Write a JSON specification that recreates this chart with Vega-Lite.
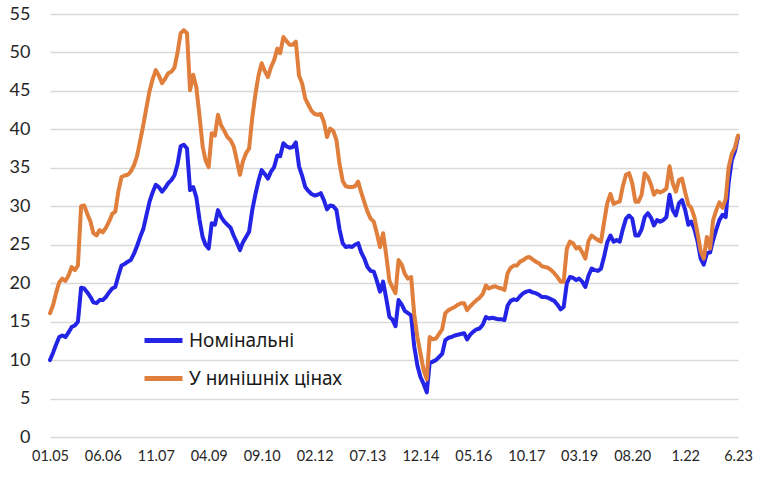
{
  "$schema": "https://vega.github.io/schema/vega-lite/v6.json",
  "width": 688,
  "height": 423,
  "autosize": {"type": "none"},
  "padding": {"left": 50, "top": 14, "right": 26, "bottom": 41},
  "background": "white",
  "config": {"view": {"stroke": null}},
  "data": {"values": [
    {"d":"2005-01-01","nom":10.0,"real":16.1},{"d":"2005-02-01","nom":11.0,"real":17.2},{"d":"2005-03-01","nom":12.0,"real":18.7},{"d":"2005-04-01","nom":13.0,"real":20.1},{"d":"2005-05-01","nom":13.2,"real":20.6},{"d":"2005-06-01","nom":13.0,"real":20.3},{"d":"2005-07-01","nom":13.6,"real":21.0},{"d":"2005-08-01","nom":14.3,"real":22.1},{"d":"2005-09-01","nom":14.5,"real":21.7},{"d":"2005-10-01","nom":15.0,"real":22.3},{"d":"2005-11-01","nom":19.4,"real":30.0},{"d":"2005-12-01","nom":19.3,"real":30.1},
    {"d":"2006-01-01","nom":18.8,"real":29.0},{"d":"2006-02-01","nom":18.2,"real":28.0},{"d":"2006-03-01","nom":17.5,"real":26.5},{"d":"2006-04-01","nom":17.4,"real":26.2},{"d":"2006-05-01","nom":17.8,"real":26.9},{"d":"2006-06-01","nom":17.8,"real":26.6},{"d":"2006-07-01","nom":18.2,"real":27.2},{"d":"2006-08-01","nom":18.8,"real":28.0},{"d":"2006-09-01","nom":19.3,"real":29.0},{"d":"2006-10-01","nom":19.5,"real":29.3},{"d":"2006-11-01","nom":21.0,"real":32.0},{"d":"2006-12-01","nom":22.3,"real":33.8},
    {"d":"2007-01-01","nom":22.5,"real":34.0},{"d":"2007-02-01","nom":22.8,"real":34.1},{"d":"2007-03-01","nom":23.0,"real":34.5},{"d":"2007-04-01","nom":23.8,"real":35.3},{"d":"2007-05-01","nom":24.8,"real":36.5},{"d":"2007-06-01","nom":26.0,"real":38.5},{"d":"2007-07-01","nom":27.0,"real":40.5},{"d":"2007-08-01","nom":28.8,"real":42.8},{"d":"2007-09-01","nom":30.6,"real":45.0},{"d":"2007-10-01","nom":31.8,"real":46.5},{"d":"2007-11-01","nom":32.8,"real":47.7},{"d":"2007-12-01","nom":32.5,"real":47.0},
    {"d":"2008-01-01","nom":31.9,"real":46.0},{"d":"2008-02-01","nom":32.4,"real":46.6},{"d":"2008-03-01","nom":33.0,"real":47.3},{"d":"2008-04-01","nom":33.4,"real":47.5},{"d":"2008-05-01","nom":34.0,"real":48.0},{"d":"2008-06-01","nom":35.5,"real":50.0},{"d":"2008-07-01","nom":37.8,"real":52.5},{"d":"2008-08-01","nom":38.0,"real":52.9},{"d":"2008-09-01","nom":37.5,"real":52.5},{"d":"2008-10-01","nom":32.1,"real":45.1},{"d":"2008-11-01","nom":32.5,"real":47.1},{"d":"2008-12-01","nom":31.2,"real":45.5},
    {"d":"2009-01-01","nom":28.3,"real":41.8},{"d":"2009-02-01","nom":26.0,"real":37.8},{"d":"2009-03-01","nom":25.0,"real":36.0},{"d":"2009-04-01","nom":24.5,"real":35.1},{"d":"2009-05-01","nom":27.8,"real":39.5},{"d":"2009-06-01","nom":27.6,"real":39.2},{"d":"2009-07-01","nom":29.5,"real":41.9},{"d":"2009-08-01","nom":28.6,"real":40.5},{"d":"2009-09-01","nom":28.0,"real":39.8},{"d":"2009-10-01","nom":27.6,"real":39.0},{"d":"2009-11-01","nom":27.2,"real":38.6},{"d":"2009-12-01","nom":26.2,"real":37.8},
    {"d":"2010-01-01","nom":25.3,"real":36.0},{"d":"2010-02-01","nom":24.3,"real":34.1},{"d":"2010-03-01","nom":25.3,"real":35.8},{"d":"2010-04-01","nom":26.0,"real":36.9},{"d":"2010-05-01","nom":26.7,"real":37.5},{"d":"2010-06-01","nom":29.5,"real":41.5},{"d":"2010-07-01","nom":31.5,"real":44.5},{"d":"2010-08-01","nom":33.3,"real":47.0},{"d":"2010-09-01","nom":34.7,"real":48.6},{"d":"2010-10-01","nom":34.2,"real":47.6},{"d":"2010-11-01","nom":33.6,"real":46.8},{"d":"2010-12-01","nom":34.5,"real":48.1},
    {"d":"2011-01-01","nom":35.1,"real":49.0},{"d":"2011-02-01","nom":36.6,"real":50.5},{"d":"2011-03-01","nom":36.5,"real":49.9},{"d":"2011-04-01","nom":38.2,"real":52.0},{"d":"2011-05-01","nom":37.8,"real":51.5},{"d":"2011-06-01","nom":37.6,"real":51.0},{"d":"2011-07-01","nom":37.7,"real":51.0},{"d":"2011-08-01","nom":38.3,"real":51.4},{"d":"2011-09-01","nom":35.2,"real":47.0},{"d":"2011-10-01","nom":34.0,"real":46.0},{"d":"2011-11-01","nom":32.5,"real":44.0},{"d":"2011-12-01","nom":32.0,"real":43.2},
    {"d":"2012-01-01","nom":31.6,"real":42.4},{"d":"2012-02-01","nom":31.4,"real":42.0},{"d":"2012-03-01","nom":31.5,"real":41.9},{"d":"2012-04-01","nom":31.7,"real":42.0},{"d":"2012-05-01","nom":30.8,"real":41.0},{"d":"2012-06-01","nom":29.6,"real":39.0},{"d":"2012-07-01","nom":30.1,"real":40.1},{"d":"2012-08-01","nom":30.0,"real":39.8},{"d":"2012-09-01","nom":29.5,"real":38.6},{"d":"2012-10-01","nom":27.0,"real":35.5},{"d":"2012-11-01","nom":25.2,"real":33.3},{"d":"2012-12-01","nom":24.7,"real":32.6},
    {"d":"2013-01-01","nom":24.8,"real":32.5},{"d":"2013-02-01","nom":24.7,"real":32.5},{"d":"2013-03-01","nom":25.0,"real":32.6},{"d":"2013-04-01","nom":25.2,"real":33.2},{"d":"2013-05-01","nom":24.0,"real":31.8},{"d":"2013-06-01","nom":23.2,"real":30.5},{"d":"2013-07-01","nom":22.1,"real":29.3},{"d":"2013-08-01","nom":21.6,"real":28.4},{"d":"2013-09-01","nom":21.5,"real":28.0},{"d":"2013-10-01","nom":20.3,"real":26.5},{"d":"2013-11-01","nom":18.9,"real":24.7},{"d":"2013-12-01","nom":20.2,"real":26.5},
    {"d":"2014-01-01","nom":18.0,"real":23.6},{"d":"2014-02-01","nom":15.6,"real":20.3},{"d":"2014-03-01","nom":15.3,"real":19.5},{"d":"2014-04-01","nom":14.4,"real":18.7},{"d":"2014-05-01","nom":17.8,"real":23.0},{"d":"2014-06-01","nom":17.2,"real":22.4},{"d":"2014-07-01","nom":16.4,"real":21.2},{"d":"2014-08-01","nom":16.1,"real":20.6},{"d":"2014-09-01","nom":15.8,"real":20.8},{"d":"2014-10-01","nom":11.8,"real":16.0},{"d":"2014-11-01","nom":9.3,"real":13.0},{"d":"2014-12-01","nom":7.8,"real":10.9},
    {"d":"2015-01-01","nom":6.9,"real":8.7},{"d":"2015-02-01","nom":5.8,"real":7.5},{"d":"2015-03-01","nom":9.6,"real":13.0},{"d":"2015-04-01","nom":9.8,"real":12.7},{"d":"2015-05-01","nom":10.0,"real":12.8},{"d":"2015-06-01","nom":10.4,"real":13.4},{"d":"2015-07-01","nom":10.8,"real":14.0},{"d":"2015-08-01","nom":12.6,"real":16.1},{"d":"2015-09-01","nom":12.9,"real":16.5},{"d":"2015-10-01","nom":13.0,"real":16.7},{"d":"2015-11-01","nom":13.2,"real":16.9},{"d":"2015-12-01","nom":13.3,"real":17.2},
    {"d":"2016-01-01","nom":13.4,"real":17.4},{"d":"2016-02-01","nom":13.5,"real":17.4},{"d":"2016-03-01","nom":12.7,"real":16.5},{"d":"2016-04-01","nom":13.3,"real":17.0},{"d":"2016-05-01","nom":13.7,"real":17.4},{"d":"2016-06-01","nom":14.0,"real":17.8},{"d":"2016-07-01","nom":14.1,"real":18.1},{"d":"2016-08-01","nom":14.6,"real":18.6},{"d":"2016-09-01","nom":15.6,"real":19.7},{"d":"2016-10-01","nom":15.4,"real":19.3},{"d":"2016-11-01","nom":15.5,"real":19.5},{"d":"2016-12-01","nom":15.4,"real":19.6},
    {"d":"2017-01-01","nom":15.3,"real":19.4},{"d":"2017-02-01","nom":15.3,"real":19.3},{"d":"2017-03-01","nom":15.2,"real":19.1},{"d":"2017-04-01","nom":17.1,"real":21.3},{"d":"2017-05-01","nom":17.7,"real":22.0},{"d":"2017-06-01","nom":17.9,"real":22.3},{"d":"2017-07-01","nom":17.8,"real":22.3},{"d":"2017-08-01","nom":18.3,"real":22.8},{"d":"2017-09-01","nom":18.7,"real":23.0},{"d":"2017-10-01","nom":18.9,"real":23.3},{"d":"2017-11-01","nom":19.0,"real":23.4},{"d":"2017-12-01","nom":18.8,"real":23.1},
    {"d":"2018-01-01","nom":18.7,"real":22.8},{"d":"2018-02-01","nom":18.5,"real":22.6},{"d":"2018-03-01","nom":18.2,"real":22.2},{"d":"2018-04-01","nom":18.2,"real":22.1},{"d":"2018-05-01","nom":18.1,"real":22.0},{"d":"2018-06-01","nom":17.9,"real":21.7},{"d":"2018-07-01","nom":17.7,"real":21.3},{"d":"2018-08-01","nom":17.2,"real":20.8},{"d":"2018-09-01","nom":16.6,"real":20.2},{"d":"2018-10-01","nom":16.9,"real":20.2},{"d":"2018-11-01","nom":20.0,"real":24.5},{"d":"2018-12-01","nom":20.8,"real":25.4},
    {"d":"2019-01-01","nom":20.7,"real":25.2},{"d":"2019-02-01","nom":20.4,"real":24.5},{"d":"2019-03-01","nom":20.6,"real":24.7},{"d":"2019-04-01","nom":20.2,"real":24.0},{"d":"2019-05-01","nom":19.5,"real":23.2},{"d":"2019-06-01","nom":21.0,"real":25.5},{"d":"2019-07-01","nom":21.9,"real":26.2},{"d":"2019-08-01","nom":21.7,"real":25.9},{"d":"2019-09-01","nom":21.6,"real":25.6},{"d":"2019-10-01","nom":21.9,"real":25.4},{"d":"2019-11-01","nom":23.5,"real":28.0},{"d":"2019-12-01","nom":25.3,"real":30.4},
    {"d":"2020-01-01","nom":26.2,"real":31.6},{"d":"2020-02-01","nom":25.4,"real":30.3},{"d":"2020-03-01","nom":25.6,"real":30.5},{"d":"2020-04-01","nom":25.4,"real":30.6},{"d":"2020-05-01","nom":27.0,"real":32.6},{"d":"2020-06-01","nom":28.4,"real":34.1},{"d":"2020-07-01","nom":28.8,"real":34.3},{"d":"2020-08-01","nom":28.4,"real":33.0},{"d":"2020-09-01","nom":26.2,"real":30.6},{"d":"2020-10-01","nom":26.2,"real":30.6},{"d":"2020-11-01","nom":27.0,"real":31.5},{"d":"2020-12-01","nom":28.6,"real":34.3},
    {"d":"2021-01-01","nom":29.1,"real":33.8},{"d":"2021-02-01","nom":28.5,"real":32.8},{"d":"2021-03-01","nom":27.5,"real":31.5},{"d":"2021-04-01","nom":28.2,"real":32.0},{"d":"2021-05-01","nom":28.0,"real":31.8},{"d":"2021-06-01","nom":28.2,"real":32.0},{"d":"2021-07-01","nom":28.6,"real":32.3},{"d":"2021-08-01","nom":31.5,"real":35.2},{"d":"2021-09-01","nom":29.5,"real":33.0},{"d":"2021-10-01","nom":28.8,"real":31.9},{"d":"2021-11-01","nom":30.4,"real":33.4},{"d":"2021-12-01","nom":30.8,"real":33.6},
    {"d":"2022-01-01","nom":29.5,"real":31.8},{"d":"2022-02-01","nom":27.6,"real":30.2},{"d":"2022-03-01","nom":28.0,"real":29.8},{"d":"2022-04-01","nom":27.0,"real":28.6},{"d":"2022-05-01","nom":25.5,"real":26.5},{"d":"2022-06-01","nom":23.2,"real":24.2},{"d":"2022-07-01","nom":22.4,"real":23.2},{"d":"2022-08-01","nom":23.9,"real":26.0},{"d":"2022-09-01","nom":24.0,"real":24.5},{"d":"2022-10-01","nom":25.6,"real":28.2},{"d":"2022-11-01","nom":27.0,"real":29.5},{"d":"2022-12-01","nom":28.2,"real":30.5},
    {"d":"2023-01-01","nom":28.9,"real":29.8},{"d":"2023-02-01","nom":28.6,"real":31.0},{"d":"2023-03-01","nom":33.0,"real":35.0},{"d":"2023-04-01","nom":36.0,"real":36.8},{"d":"2023-05-01","nom":37.1,"real":37.6},{"d":"2023-06-01","nom":39.0,"real":39.2}
  ]},
  "transform": [{"fold": ["nom", "real"], "as": ["series", "value"]}],
  "mark": {"type": "line", "strokeWidth": 4, "strokeJoin": "round", "strokeCap": "round"},
  "encoding": {
    "x": {
      "field": "d", "type": "temporal",
      "scale": {"type": "utc", "domain": [{"year": 2005, "month": 1, "date": 1, "utc": true}, {"year": 2023, "month": 6, "date": 1, "utc": true}]},
      "axis": {
        "title": null, "domain": false, "ticks": false, "grid": false,
        "values": [
          {"year": 2005, "month": 1, "date": 1, "utc": true},
          {"year": 2006, "month": 6, "date": 1, "utc": true},
          {"year": 2007, "month": 11, "date": 1, "utc": true},
          {"year": 2009, "month": 4, "date": 1, "utc": true},
          {"year": 2010, "month": 9, "date": 1, "utc": true},
          {"year": 2012, "month": 2, "date": 1, "utc": true},
          {"year": 2013, "month": 7, "date": 1, "utc": true},
          {"year": 2014, "month": 12, "date": 1, "utc": true},
          {"year": 2016, "month": 5, "date": 1, "utc": true},
          {"year": 2017, "month": 10, "date": 1, "utc": true},
          {"year": 2019, "month": 3, "date": 1, "utc": true},
          {"year": 2020, "month": 8, "date": 1, "utc": true},
          {"year": 2022, "month": 1, "date": 1, "utc": true},
          {"year": 2023, "month": 6, "date": 1, "utc": true}
        ],
        "labelExpr": "utcyear(datum.value) >= 2022 ? (utcmonth(datum.value) + 1) + '.' + utcFormat(datum.value, '%y') : utcFormat(datum.value, '%m.%y')",
        "labelFont": "Lato", "labelFontSize": 14.5, "labelColor": "#262626",
        "labelPadding": 12, "labelFlush": false, "labelOverlap": false
      }
    },
    "y": {
      "field": "value", "type": "quantitative",
      "scale": {"domain": [0, 55], "nice": false, "zero": true},
      "axis": {
        "title": null, "domain": false, "ticks": false,
        "values": [0, 5, 10, 15, 20, 25, 30, 35, 40, 45, 50, 55],
        "grid": true, "gridColor": "#D9D9D9", "gridWidth": 1.5,
        "labelFont": "Lato", "labelFontSize": 18, "labelColor": "#262626", "labelPadding": 20
      }
    },
    "color": {
      "field": "series", "type": "nominal",
      "scale": {"domain": ["nom", "real"], "range": ["#2424E6", "#E07F3C"]},
      "legend": {
        "title": null, "orient": "none", "legendX": 92, "legendY": 305,
        "symbolType": "stroke", "symbolSize": 1444, "symbolStrokeWidth": 5,
        "labelFont": "Noto Sans", "labelFontSize": 19, "labelColor": "#1a1a1a",
        "labelOffset": 4, "rowPadding": 6,
        "labelExpr": "datum.value == 'nom' ? 'Номінальні' : 'У нинішніх цінах'"
      }
    }
  }
}
